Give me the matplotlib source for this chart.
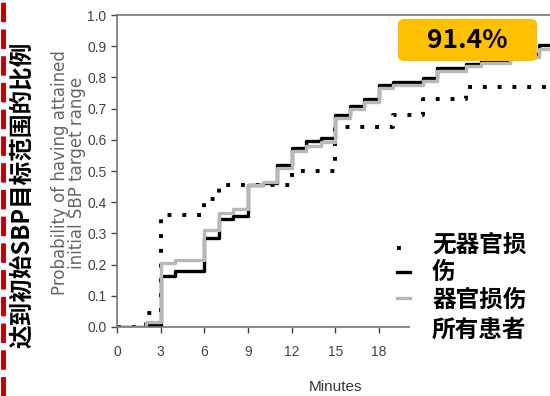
import matplotlib
matplotlib.use("Agg")
import matplotlib.pyplot as plt
from matplotlib.lines import Line2D
from matplotlib.patches import Rectangle, FancyBboxPatch

plt.rcParams['font.family'] = ['Liberation Sans Narrow', 'Liberation Sans', 'DejaVu Sans']

# ---- step data (minutes -> cumulative probability) ----
t_no_damage = [0, 2, 3, 6, 7, 12, 15, 19, 21, 24, 30]
p_no_damage = [0, 0.045, 0.36, 0.41, 0.455, 0.50, 0.64, 0.68, 0.73, 0.77, 0.77]

t_all = [0, 2, 3, 4, 6, 7, 8, 9, 10, 11, 12, 13, 14, 15, 16, 17, 18, 19, 21, 22, 24, 25, 27, 29, 30]
p_damage = [0, 0.008, 0.165, 0.178, 0.285, 0.345, 0.357, 0.455, 0.462, 0.52, 0.575, 0.595,
            0.607, 0.68, 0.708, 0.73, 0.776, 0.786, 0.797, 0.831, 0.842, 0.853, 0.875, 0.904, 0.904]
p_all = [0, 0.015, 0.205, 0.215, 0.31, 0.365, 0.377, 0.455, 0.465, 0.51, 0.565, 0.58,
         0.592, 0.67, 0.70, 0.72, 0.765, 0.775, 0.79, 0.82, 0.835, 0.845, 0.865, 0.89, 0.89]

x_ticks = [0, 3, 6, 9, 12, 15, 18, 21, 24, 27]
y_ticks = [0.0, 0.1, 0.2, 0.3, 0.4, 0.5, 0.6, 0.7, 0.8, 0.9, 1.0]
legend_cn = ["无器官损", "伤", "器官损伤", "所有患者"]
badge = "91.4%"

W, H = 550, 396
fig = plt.figure(figsize=(W / 100, H / 100), dpi=100)
ax = fig.add_axes([117 / W, 1 - 327 / H, 1 - 117 / W, (327 - 15) / H])

ax.step(t_no_damage, p_no_damage, where='post', color='black', lw=2.8,
        linestyle=(0, (1, 2.8)))
ax.step(t_all, p_damage, where='post', color='black', lw=2.4)
ax.step(t_all, p_all, where='post', color='#b8b8b8', lw=2.4)

ax.set_xlim(0, (W - 117) / 14.55)
ax.set_ylim(0, 1)
ax.set_xticks(x_ticks)
ax.set_yticks(y_ticks)
ax.set_yticklabels([f"{v:.1f}" for v in y_ticks])
ax.tick_params(colors='#444444', labelsize=10, length=4, width=1)
ax.tick_params(axis='x', pad=9)
for s in ['left', 'bottom', 'top']:
    ax.spines[s].set_color('#777777')
    ax.spines[s].set_linewidth(1.2)
ax.spines['right'].set_visible(False)

ax.set_xlabel("Minutes", fontsize=11, color='#333333')
ax.xaxis.set_label_coords((335 - 117) / (W - 117), -0.17)
ax.set_ylabel("Probability of having attained\ninitial SBP target range",
              fontsize=12, color='#666666', family='DejaVu Sans', linespacing=0.95)
ax.yaxis.set_label_coords(-(117 - 86) / (W - 117), (327 - 173) / 312)

# white panel holding the Chinese legend
fig.add_artist(Rectangle((410 / W, 1 - 362 / H), (W - 410) / W, (362 - 222) / H,
                         transform=fig.transFigure, facecolor='white',
                         edgecolor='none', zorder=3))
leg_styles = [dict(color='black', lw=2.8, linestyle=(0, (1, 2.8))),
              dict(color='black', lw=2.4),
              dict(color='#b8b8b8', lw=2.4)]
for y, st in zip([248, 272, 298], leg_styles):
    fig.add_artist(Line2D([397 / W, 410 / W], [1 - y / H, 1 - y / H],
                          transform=fig.transFigure, zorder=4, **st))
for y, txt in zip([245, 272, 300, 330], legend_cn):
    fig.text(432 / W, 1 - y / H, txt, fontsize=17, fontweight='bold',
             family=['Noto Sans CJK SC', 'DejaVu Sans'], va='center', ha='left', zorder=5)

# yellow badge
fig.add_artist(FancyBboxPatch((398 / W, 1 - 61 / H), (537 - 398) / W, (61 - 19) / H,
                              boxstyle="round,pad=0,rounding_size=0.012",
                              transform=fig.transFigure, facecolor='#FFC000',
                              edgecolor='none', zorder=3))
fig.text(467 / W, 1 - 41 / H, badge, fontsize=19, fontweight='bold',
         family=['Noto Sans CJK SC', 'DejaVu Sans'], ha='center', va='center', zorder=5)

# Chinese axis title on the far left
fig.text(22 / W, 1 - 195 / H, "达到初始SBP目标范围的比例", rotation=90, fontsize=17,
         fontweight='bold', family=['Noto Sans CJK SC', 'DejaVu Sans'],
         ha='center', va='center')

# red dashed rule at the left edge
fig.add_artist(Line2D([3 / W, 3 / W], [0, 1], transform=fig.transFigure,
                      color='#C00000', lw=3.5, linestyle=(0, (4, 1.5))))

fig.savefig("out.png", dpi=100)
